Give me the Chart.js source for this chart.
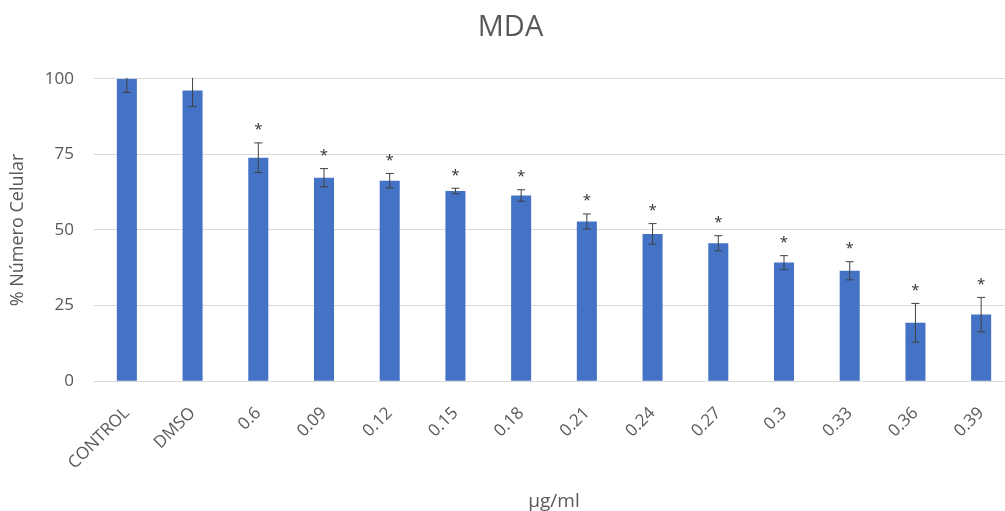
<!DOCTYPE html>
<html>
<head>
<meta charset="utf-8">
<script src="https://cdn.jsdelivr.net/npm/chart.js@4/dist/chart.umd.min.js"></script>
<style>
  html, body { margin: 0; padding: 0; background: #fff; overflow: hidden; }
  #wrap { position: relative; width: 1016px; height: 515px; }
</style>
</head>
<body>
<div id="wrap"><canvas id="c"></canvas></div>
<script>
// Concentrations and controls
const categories = ['CONTROL', 'DMSO', '0.6', '0.09', '0.12', '0.15', '0.18', '0.21', '0.24', '0.27', '0.3', '0.33', '0.36', '0.39'];
// Mean % cell number
const cellPercent = [100, 96.1, 73.9, 67.3, 66.3, 62.9, 61.4, 52.8, 48.7, 45.6, 39.2, 36.5, 19.3, 22.0];
// Standard deviation of each mean
const errorValues = [4.5, 5.3, 4.9, 3.0, 2.4, 0.9, 1.9, 2.5, 3.4, 2.5, 2.3, 3.0, 6.4, 5.7];
// Significance marks shown above each bar
const significance = ['', '', '*', '*', '*', '*', '*', '*', '*', '*', '*', '*', '*', '*'];
// Value axis ticks
const yTicks = [0, 25, 50, 75, 100];

const textColor = '#595959';
const fontFamily = "'Open Sans', 'Noto Sans', sans-serif";

// Error bars with caps, plus significance asterisks above them
const errorBarPlugin = {
  id: 'errorBars',
  afterDatasetsDraw(chart) {
    const { ctx, chartArea, scales } = chart;
    const meta = chart.getDatasetMeta(0);
    const y = scales.y;
    ctx.save();
    meta.data.forEach((bar, i) => {
      const v = cellPercent[i];
      const e = errorValues[i];
      const x = bar.x;
      const yTop = y.getPixelForValue(v + e);
      const yBot = y.getPixelForValue(v - e);
      ctx.save();
      ctx.beginPath();
      ctx.rect(chartArea.left, chartArea.top - 1, chartArea.right - chartArea.left, chartArea.bottom - chartArea.top + 1);
      ctx.clip();
      ctx.strokeStyle = '#404040';
      ctx.lineWidth = 1;
      ctx.beginPath();
      ctx.moveTo(x, yTop); ctx.lineTo(x, yBot);
      ctx.moveTo(x - 4, yTop); ctx.lineTo(x + 4, yTop);
      ctx.moveTo(x - 4, yBot); ctx.lineTo(x + 4, yBot);
      ctx.stroke();
      ctx.restore();
      if (significance[i]) {
        ctx.fillStyle = '#303030';
        ctx.font = `15px ${fontFamily}`;
        ctx.textAlign = 'center';
        ctx.textBaseline = 'middle';
        ctx.fillText(significance[i], x, yTop - 13);
      }
    });
    ctx.restore();
  }
};

new Chart(document.getElementById('c'), {
  type: 'bar',
  data: {
    labels: categories,
    datasets: [{
      data: cellPercent,
      backgroundColor: '#4472C4',
      borderWidth: 0,
      categoryPercentage: 1,
      barPercentage: 0.305
    }]
  },
  options: {
    responsive: true,
    maintainAspectRatio: false,
    animation: false,
    layout: { padding: { top: 0, left: 7, right: 2, bottom: 2 } },
    plugins: {
      legend: { display: false },
      tooltip: { enabled: false },
      title: {
        display: true,
        text: 'MDA',
        color: textColor,
        font: { family: fontFamily, size: 29, weight: 'normal' },
        padding: { top: 10, bottom: 34 }
      }
    },
    scales: {
      x: {
        grid: { display: false },
        border: { display: true, color: '#d9d9d9' },
        // rotated labels may hang past the plot edge; keep the plot start set by the y axis
        afterFit(scale) { scale.paddingLeft = 0; scale.paddingRight = 0; },
        ticks: {
          color: textColor,
          font: { family: fontFamily, size: 17 },
          maxRotation: 45,
          minRotation: 45,
          padding: 14
        },
        title: {
          display: true,
          text: 'µg/ml',
          color: textColor,
          font: { family: fontFamily, size: 19 },
          padding: { top: 3, bottom: 0 }
        }
      },
      y: {
        min: 0,
        max: 100,
        afterBuildTicks(axis) { axis.ticks = yTicks.map(v => ({ value: v })); },
        // fixed axis band: title + tick labels + gap
        afterFit(axis) { axis.width = 87; },
        grid: { color: '#d9d9d9', drawTicks: false },
        border: { display: false },
        ticks: {
          color: textColor,
          font: { family: fontFamily, size: 17 },
          padding: 20
        },
        title: {
          display: true,
          text: '% Número Celular',
          color: textColor,
          font: { family: fontFamily, size: 18 },
          padding: { top: 0, bottom: 12 }
        }
      }
    }
  },
  plugins: [errorBarPlugin]
});
</script>
</body>
</html>
